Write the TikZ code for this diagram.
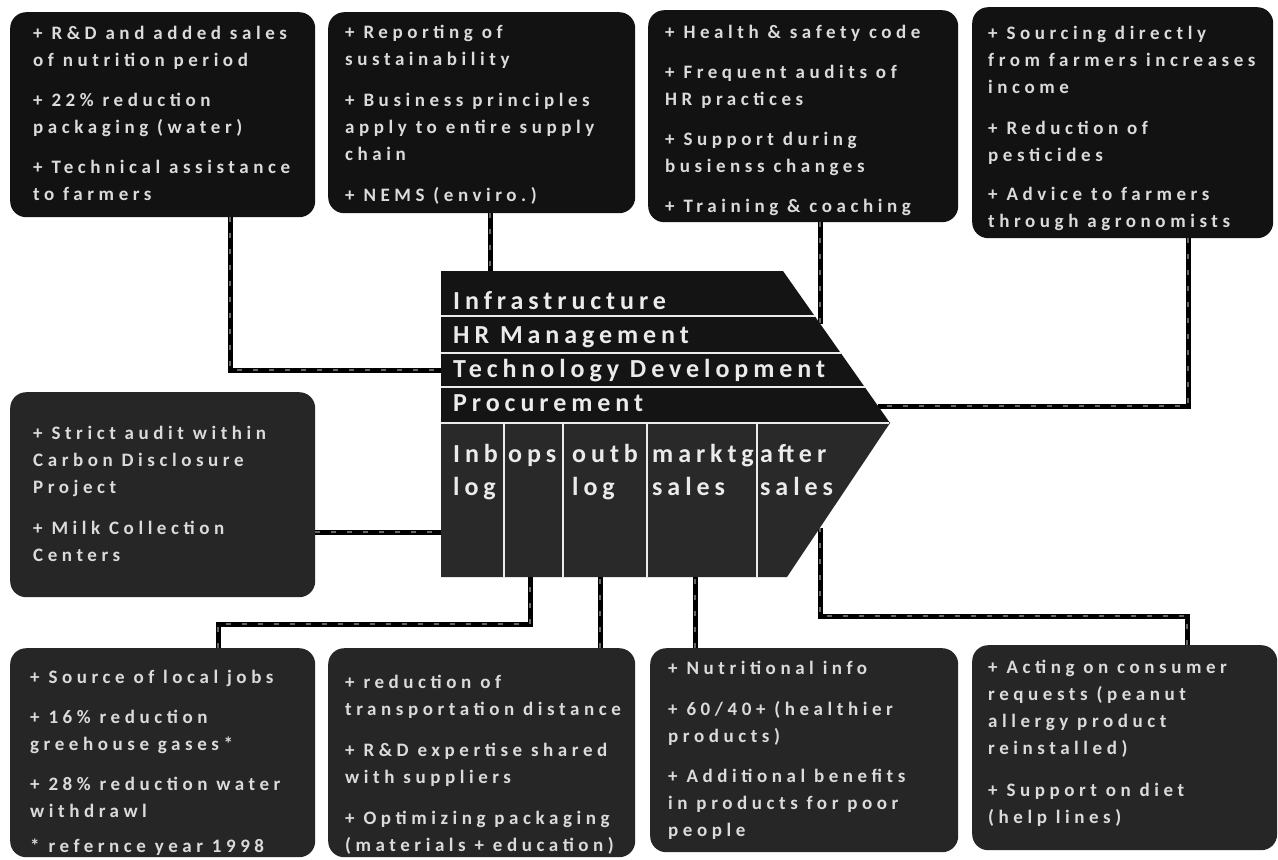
\documentclass[tikz,border=0pt]{standalone}
\usepackage{fontspec}
\setmainfont{Carlito}
\newfontfamily\boxfont{Carlito}[LetterSpace=24]
\newfontfamily\chainfont{Carlito}[LetterSpace=19]
\begin{document}
\begin{tikzpicture}[x=1pt,y=-1pt,
  boxdark/.style={fill=black!93, rounded corners=16pt, inner sep=0pt, draw=none, anchor=north west},
  boxgray/.style={fill=black!85, rounded corners=16pt, inner sep=0pt, draw=none, anchor=north west},
  txt/.style={text=black!14, font=\boxfont\bfseries\fontsize{19}{27}\selectfont, align=left, inner sep=0pt, anchor=north west},
  chaintxt/.style={text=black!8, font=\chainfont\bfseries\fontsize{26}{33}\selectfont, align=left, inner sep=0pt},
  sep/.style={draw=black!8, line width=2pt},
  conn/.style={line width=5pt, black, postaction={draw, line width=1.3pt, black!60, dash pattern=on 5pt off 11pt}}
]
\useasboundingbox (0,0) rectangle (1278,860);
\fill[white] (0,0) rectangle (1278,860);

% attachment points on the value chain
\coordinate (infra) at (490,271);
\coordinate (hr) at (820,323.6);
\coordinate (tech) at (441,370);
\coordinate (proc) at (878,406);
\coordinate (inb) at (441,532);
\coordinate (inblog) at (530,577);
\coordinate (outlog) at (600,577);
\coordinate (mkt) at (695,577);
\coordinate (aft) at (820,528);
% bends of the elbow connectors
\coordinate (j1) at (230,370);
\coordinate (j4) at (1188,406);
\coordinate (j6a) at (218,624);
\coordinate (j6b) at (530,624);
\coordinate (j9a) at (1187,616);
\coordinate (j9b) at (820,616);

% boxes
\node[boxdark, minimum width=305pt, minimum height=205pt] (b1) at (10,12) {};
\node[boxdark, minimum width=307pt, minimum height=201pt] (b2) at (328,12) {};
\node[boxdark, minimum width=310pt, minimum height=212pt] (b3) at (648,10) {};
\node[boxdark, minimum width=301pt, minimum height=231pt] (b4) at (972,7) {};
\node[boxgray, minimum width=305pt, minimum height=205pt] (m) at (10,392) {};
\node[boxgray, minimum width=305pt, minimum height=209pt] (c1) at (10,648) {};
\node[boxgray, minimum width=307pt, minimum height=209pt] (c2) at (328,648) {};
\node[boxgray, minimum width=308pt, minimum height=204pt] (c3) at (650,648) {};
\node[boxgray, minimum width=305pt, minimum height=205pt] (c4) at (972,645) {};

% connectors
\draw[conn] (b1.south -| j1) -- (j1) -- (tech);
\draw[conn] (b2.south -| infra) -- (infra);
\draw[conn] (b3.south -| hr) -- (hr);
\draw[conn] (b4.south -| j4) -- (j4) -- (proc);
\draw[conn] (m.east |- inb) -- (inb);
\draw[conn] (c1.north -| j6a) -- (j6a) -- (j6b) -- (inblog);
\draw[conn] (c2.north -| outlog) -- (outlog);
\draw[conn] (c3.north -| mkt) -- (mkt);
\draw[conn] (c4.north -| j9a) -- (j9a) -- (j9b) -- (aft);

% value chain arrow
\fill[black!92] (441,271) -- (783,271) -- (890,423) -- (441,423) -- cycle;
\fill[black!84] (441,423) -- (890,423) -- (787,577) -- (441,577) -- cycle;
\draw[sep] (441,316) -- (815,316);
\draw[sep] (441,353) -- (841,353);
\draw[sep] (441,387) -- (865,387);
\draw[sep] (441,423) -- (889,423);
\foreach \xx in {504,563,647,757} \draw[sep] (\xx,423) -- (\xx,577);

\node[chaintxt, anchor=base west] (l1) at (453,309) {Infrastructure};
\node[chaintxt, anchor=base west] (l2) at (453,343) {HR Management};
\node[chaintxt, anchor=base west] (l3) at (453,377) {Technology Development};
\node[chaintxt, anchor=base west] (l4) at (453,411) {Procurement};
\node[chaintxt, anchor=north west] (p1) at (453,439) {\strut Inb\\log};
\node[chaintxt, anchor=north west] (p2) at (508,439) {\strut ops};
\node[chaintxt, anchor=north west] (p3) at (572,439) {\strut outb\\log};
\node[chaintxt, anchor=north west] (p4) at (652,439) {\strut marktg\\sales};
\node[chaintxt, anchor=north west] (p5) at (760,439) {\strut after\\sales};

% box texts
\node[txt] (t1) at (33,20) {\strut + R\&D and added sales\\of nutrition period\\[13pt]+ 22\% reduction\\packaging (water)\\[13pt]+ Technical assistance\\to farmers};
\node[txt] (t2) at (345,19) {\strut + Reporting of\\sustainability\\[14pt]+ Business principles\\apply to entire supply\\chain\\[14pt]+ NEMS (enviro.)};
\node[txt] (t3) at (665,19) {\strut + Health \& safety code\\[13pt]+ Frequent audits of\\HR practices\\[13pt]+ Support during\\busienss changes\\[13pt]+ Training \& coaching};
\node[txt] (t4) at (988,20) {\strut + Sourcing directly\\from farmers increases\\income\\[14pt]+ Reduction of\\pesticides\\[12pt]+ Advice to farmers\\through agronomists};
\node[txt] (tm) at (33,420) {\strut + Strict audit within\\Carbon Disclosure\\Project\\[14pt]+ Milk Collection\\Centers};
\node[txt] (u1) at (30,664) {\strut + Source of local jobs\\[13pt]+ 16\% reduction\\greehouse gases*\\[13pt]+ 28\% reduction water\\withdrawl\\[8pt]* refernce year 1998};
\node[txt] (u2) at (345,669) {\strut + reduction of\\transportation distance\\[14pt]+ R\&D expertise shared\\with suppliers\\[14pt]+ Optimizing packaging\\(materials + education)};
\node[txt] (u3) at (668,655) {\strut + Nutritional info\\[14pt]+ 60/40+ (healthier\\products)\\[13pt]+ Additional benefits\\in products for poor\\people};
\node[txt] (u4) at (988,654) {\strut + Acting on consumer\\requests (peanut\\allergy product\\reinstalled)\\[15pt]+ Support on diet\\(help lines)};
\end{tikzpicture}
\end{document}
